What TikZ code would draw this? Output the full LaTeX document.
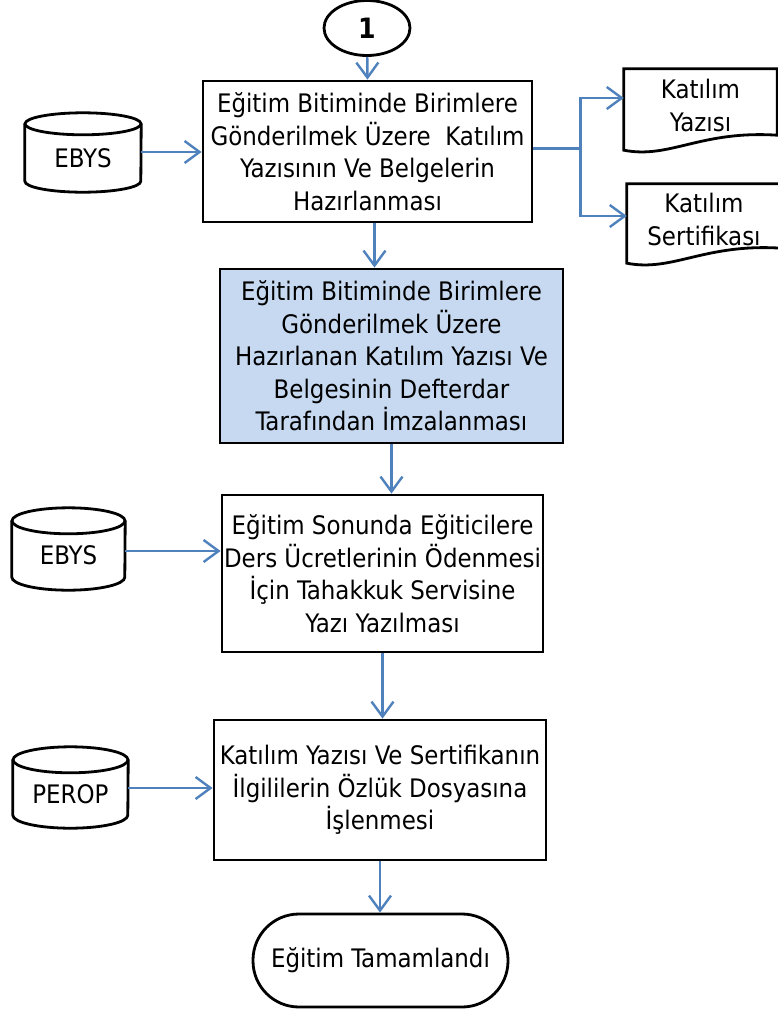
\documentclass[tikz,border=0pt]{standalone}
\usepackage{fontspec}
\setmainfont{DejaVu Sans Condensed}
\usetikzlibrary{arrows.meta,shapes.geometric,calc}
\definecolor{conblue}{RGB}{79,129,189}
\definecolor{boxblue}{RGB}{198,217,241}
\tikzset{
  boxline/.style={draw=black,line width=2.8pt},
  procbox/.style={boxline,rectangle,align=center,inner sep=0pt,font=\fontsize{25.5}{32.5}\selectfont},
  txt/.style={align=center,inner sep=0pt,font=\fontsize{25.5}{33}\selectfont},
  conn/.style={draw=conblue,line width=2.4pt},
  arr/.style={conn,-{Straight Barb[length=15pt,width=22pt,line width=2.4pt]}},
}
\newcommand\mydoc[1]{%
  \draw[boxline] ([yshift=-9pt]#1.south west) -- (#1.north west) -- (#1.north east) -- ([yshift=6pt]#1.south east)
    .. controls ([xshift=-77pt,yshift=11pt]#1.south east) and ([xshift=46pt,yshift=-18pt]#1.south west) .. ([yshift=-9pt]#1.south west) -- cycle;
}
\begin{document}
\begin{tikzpicture}[x=1pt,y=-1pt]
\useasboundingbox (0,0) rectangle (778,1012);

% start connector
\node[boxline,ellipse,minimum width=86,minimum height=55,inner sep=0pt,font=\fontsize{28}{30}\selectfont\bfseries] (start) at (367,28) {1};

% process boxes
\node[procbox,minimum width=329,minimum height=141] (box1) at (367.5,151.5)
  {Eğitim Bitiminde Birimlere\\Gönderilmek Üzere~~Katılım\\Yazısının Ve Belgelerin\\Hazırlanması};
\node[procbox,fill=boxblue,minimum width=343,minimum height=174] (box2) at (391.5,356)
  {Eğitim Bitiminde Birimlere\\Gönderilmek Üzere\\Hazırlanan Katılım Yazısı Ve\\Belgesinin Defterdar\\Tarafından İmzalanması};
\node[procbox,minimum width=321,minimum height=157] (box3) at (382.5,573.5)
  {Eğitim Sonunda Eğiticilere\\Ders Ücretlerinin Ödenmesi\\İçin Tahakkuk Servisine\\Yazı Yazılması};
\node[procbox,minimum width=332,minimum height=140] (box4) at (380,790)
  {Katılım Yazısı Ve Sertifikanın\\İlgililerin Özlük Dosyasına\\İşlenmesi};
\node[procbox,rounded corners=46pt,minimum width=255,minimum height=93] (term) at (380.5,960.5)
  {Eğitim Tamamlandı};

% databases
\node[txt,minimum width=116,minimum height=68] (ebys1) at (83,158) {EBYS};
\draw[boxline] (ebys1.north west) -- ([yshift=11pt]ebys1.south west)
  arc[start angle=180,end angle=360,x radius=58pt,y radius=11pt] -- (ebys1.north east);
\draw[boxline] (ebys1.north) ellipse[x radius=58pt,y radius=11pt];

\node[txt,minimum width=113,minimum height=69] (ebys2) at (68.5,555.5) {EBYS};
\draw[boxline] (ebys2.north west) -- ([yshift=13pt]ebys2.south west)
  arc[start angle=180,end angle=360,x radius=56.5pt,y radius=13pt] -- (ebys2.north east);
\draw[boxline] (ebys2.north) ellipse[x radius=56.5pt,y radius=13pt];

\node[txt,minimum width=115,minimum height=68] (perop) at (70.5,794) {PEROP};
\draw[boxline] (perop.north west) -- ([yshift=13pt]perop.south west)
  arc[start angle=180,end angle=360,x radius=57.5pt,y radius=13pt] -- (perop.north east);
\draw[boxline] (perop.north) ellipse[x radius=57.5pt,y radius=13pt];

% documents
\node[txt,minimum width=153,minimum height=72] (doc1) at (700.5,105) {Katılım\\Yazısı};
\mydoc{doc1}
\node[txt,minimum width=154,minimum height=70] (doc2) at (704,219) {Katılım\\Sertifikası};
\mydoc{doc2}

% connectors
\draw[arr] (start) -- (box1.north);
\draw[arr] ([yshift=6pt]ebys1.east) -- ([yshift=6pt]ebys1.east -| box1.west);
\draw[conn] ([yshift=3pt]box1.east) -- ++(47,0) coordinate (split);
\draw[arr] (split) |- ([yshift=7pt]doc1.west);
\draw[arr] (split) |- ([yshift=3pt]doc2.west);
\draw[arr] ([xshift=7pt]box1.south) -- ([xshift=7pt]box1.south |- box2.north);
\draw[arr] (box2.south) -- (box2.south |- box3.north);
\draw[arr] ([yshift=4.5pt]ebys2.east) -- ([yshift=4.5pt]ebys2.east -| box3.west);
\draw[arr] (box3.south) -- (box3.south |- box4.north);
\draw[arr] ([yshift=6pt]perop.east) -- ([yshift=6pt]perop.east -| box4.west);
\draw[arr] (box4.south) -- (box4.south |- term.north);
\end{tikzpicture}
\end{document}
